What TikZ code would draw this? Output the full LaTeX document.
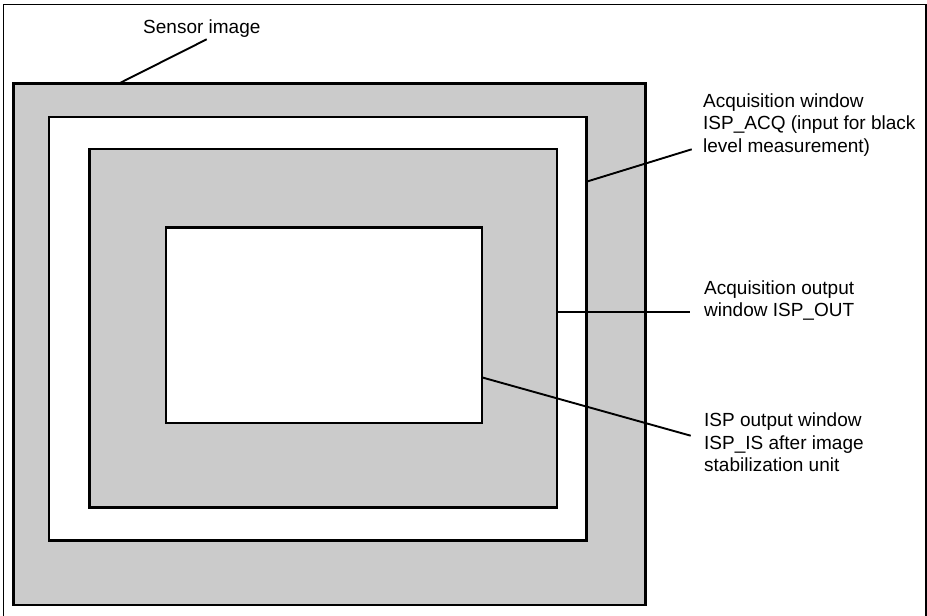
\documentclass[tikz,border=0pt]{standalone}
\usepackage{fontspec}
\setmainfont{Liberation Sans}
\usepackage{tikz}
\definecolor{boxgray}{RGB}{203,203,203}
\tikzset{
  winbox/.style={draw=black, line width=2.4pt, inner sep=0pt, outer sep=0pt,
    anchor=north west},
  leader/.style={draw=black, line width=1.9pt, line cap=butt},
  winlabel/.style={anchor=base west, inner sep=0pt, align=left,
    font=\fontsize{19}{22.5}\selectfont},
  frameline/.style={draw=black, line width=1.6pt}
}

\begin{document}
\begin{tikzpicture}[x=1pt, y=-1pt]
  \useasboundingbox (0,0) rectangle (927,616);
  \draw[frameline] (3.5,620) -- (3.5,4.5) -- (925.7,4.5) -- (925.7,620);
  % nested windows
  \node[winbox, fill=boxgray, minimum width=632.2pt, minimum height=521.7pt]
    (sensor) at (13.3,83.3) {};
  \node[winbox, fill=white, minimum width=537.5pt, minimum height=423.8pt]
    (acq) at (49,116.7) {};
  \node[winbox, fill=boxgray, minimum width=467.7pt, minimum height=358.3pt]
    (out) at (89.3,149) {};
  \node[winbox, fill=white, minimum width=316pt, minimum height=195.7pt]
    (is) at (165.7,227.3) {};
  % labels (base = last line)
  \node[winlabel] (sensorlabel) at (143,33) {Sensor image};
  \node[winlabel] (acqlabel) at (703,152)
    {Acquisition window\\ISP\_ACQ (input for black\\level measurement)};
  \node[winlabel] (outlabel) at (704,316.5)
    {Acquisition output\\window ISP\_OUT};
  \node[winlabel] (islabel) at (704,471.5)
    {ISP output window\\ISP\_IS after image\\stabilization unit};
  % leader ends
  \coordinate (sensorend) at (206.7,39.3);
  \coordinate (acqend) at (691.7,149.3);
  \coordinate (outend) at (690,311.7);
  \coordinate (isend) at (690.7,435.7);
  \draw[leader] ([xshift=106pt]sensor.north west) -- (sensorend);
  \draw[leader] ([yshift=-65pt]acq.north east) -- (acqend);
  \draw[leader] ([yshift=-162.7pt]out.north east) -- (outend);
  \draw[leader] ([yshift=-150pt]is.north east) -- (isend);
\end{tikzpicture}
\end{document}
